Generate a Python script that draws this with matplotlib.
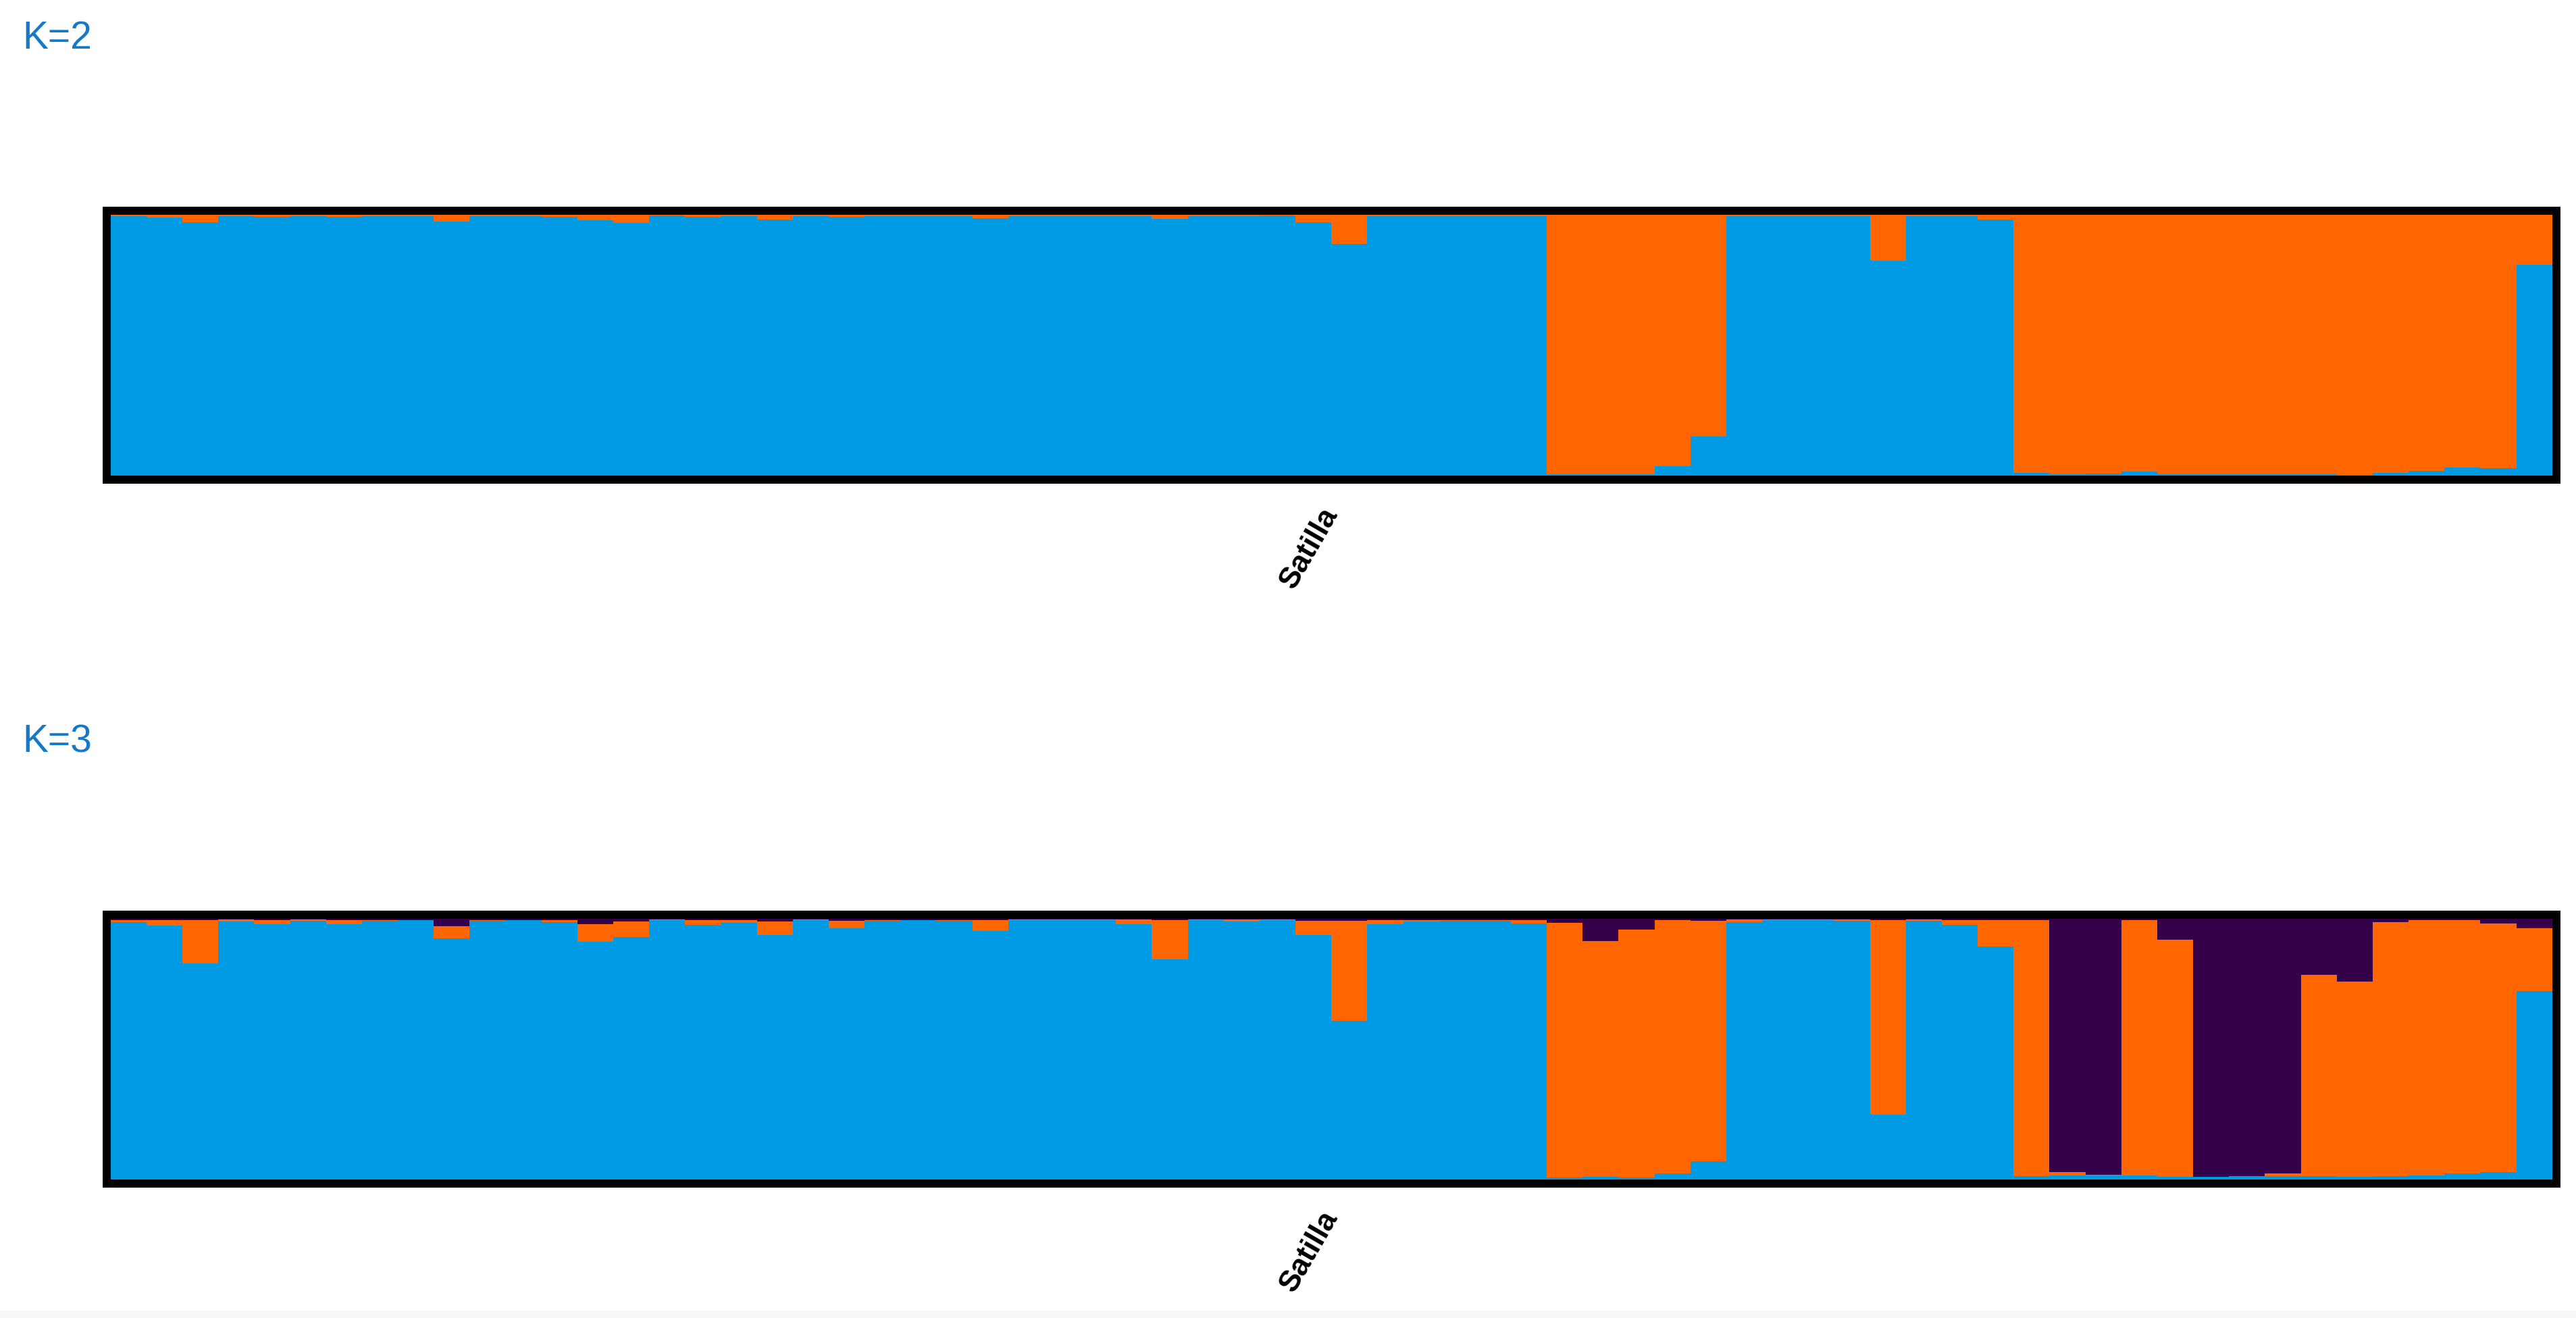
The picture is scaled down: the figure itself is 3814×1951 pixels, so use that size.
import matplotlib
matplotlib.use("Agg")
import matplotlib.pyplot as plt
import numpy as np

# admixture proportions, one value per individual (68 individuals, one population)
population = "Satilla"

k2_blue = [0.994, 0.989, 0.972, 0.994, 0.993, 0.996, 0.992, 0.996, 0.996, 0.973,
           0.996, 0.996, 0.993, 0.978, 0.970, 0.998, 0.993, 0.994, 0.981, 0.996,
           0.992, 0.996, 0.996, 0.996, 0.987, 0.996, 0.996, 0.996, 0.994, 0.985,
           0.996, 0.996, 0.998, 0.972, 0.889, 0.994, 0.996, 0.996, 0.996, 0.994,
           0.006, 0.006, 0.006, 0.036, 0.151, 0.994, 0.996, 0.996, 0.996, 0.825,
           0.994, 0.994, 0.983, 0.010, 0.004, 0.008, 0.015, 0.004, 0.004, 0.006,
           0.004, 0.006, 0.003, 0.010, 0.019, 0.030, 0.028, 0.807]
k2_orange = [round(1 - b, 3) for b in k2_blue]

k3_blue = [0.987, 0.973, 0.830, 0.989, 0.979, 0.991, 0.979, 0.992, 0.994, 0.926,
           0.991, 0.994, 0.986, 0.911, 0.929, 0.995, 0.977, 0.985, 0.937, 0.994,
           0.963, 0.993, 0.994, 0.993, 0.953, 0.995, 0.994, 0.994, 0.978, 0.845,
           0.994, 0.989, 0.996, 0.937, 0.609, 0.979, 0.989, 0.992, 0.992, 0.981,
           0.008, 0.010, 0.006, 0.023, 0.069, 0.987, 0.994, 0.994, 0.992, 0.248,
           0.992, 0.977, 0.894, 0.012, 0.015, 0.015, 0.015, 0.009, 0.009, 0.011,
           0.013, 0.011, 0.009, 0.012, 0.015, 0.022, 0.028, 0.722]
k3_orange = [0.009, 0.023, 0.166, 0.008, 0.017, 0.007, 0.017, 0.004, 0.002, 0.045,
             0.005, 0.002, 0.010, 0.067, 0.060, 0.002, 0.019, 0.011, 0.052, 0.003,
             0.028, 0.003, 0.002, 0.003, 0.043, 0.002, 0.003, 0.003, 0.019, 0.151,
             0.003, 0.008, 0.002, 0.054, 0.384, 0.017, 0.007, 0.004, 0.004, 0.015,
             0.977, 0.904, 0.953, 0.973, 0.922, 0.010, 0.003, 0.003, 0.005, 0.746,
             0.005, 0.019, 0.102, 0.984, 0.014, 0.002, 0.981, 0.911, 0.001, 0.002,
             0.009, 0.773, 0.751, 0.975, 0.981, 0.974, 0.953, 0.241]
k3_purple = [round(1 - b - o, 3) for b, o in zip(k3_blue, k3_orange)]

BLUE = "#009be5"
ORANGE = "#ff6600"
PURPLE = "#35004a"

plt.rcParams['font.family'] = ['Liberation Sans', 'DejaVu Sans']

W, H = 3814, 1951
fig = plt.figure(figsize=(W / 100, H / 100), dpi=100)
fig.patch.set_facecolor("white")
# faint grey strip along the bottom of the screenshot
fig.patches.append(plt.Rectangle((0, 0), 1, 11 / H, transform=fig.transFigure,
                                 facecolor="#f7f7f7", edgecolor="none"))

n = len(k2_blue)
x = np.arange(n)
border_px = 12
half = border_px / 2


def structure_panel(top_px, bottom_px, stacks, label, label_y):
    left_px, right_px = 157.7, 3784.7
    ax = fig.add_axes([left_px / W, 1 - bottom_px / H,
                       (right_px - left_px) / W, (bottom_px - top_px) / H])
    inner_w = right_px - left_px - 2 * half
    inner_h = bottom_px - top_px - 2 * half
    ex = half / inner_w * n
    ey = half / inner_h
    bottom = np.zeros(n)
    for vals, col in stacks:
        vals = np.array(vals)
        ax.bar(x, vals, width=1.0, bottom=bottom, align="edge", color=col,
               edgecolor="none", linewidth=0)
        bottom += vals
    ax.set_xlim(-ex, n + ex)
    ax.set_ylim(-ey, 1 + ey)
    ax.set_facecolor("black")
    for s in ax.spines.values():
        s.set_linewidth(border_px * 72 / 100)
        s.set_color("black")
    ax.set_yticks([])
    ax.set_xticks([n / 2])
    ax.set_xticklabels([population], rotation=60, ha="right", va="center",
                       rotation_mode="anchor", fontsize=32, fontweight="bold")
    ax.tick_params(axis="x", length=0, pad=32)
    fig.text(33 / W, 1 - label_y / H, label, color="#1479c8", fontsize=41,
             ha="left", va="baseline")
    return ax


structure_panel(312, 710, [(k2_blue, BLUE), (k2_orange, ORANGE)], "K=2", 72)
structure_panel(1354, 1751.7, [(k3_blue, BLUE), (k3_orange, ORANGE), (k3_purple, PURPLE)],
                "K=3", 1113)

fig.savefig("out.png", dpi=100)
